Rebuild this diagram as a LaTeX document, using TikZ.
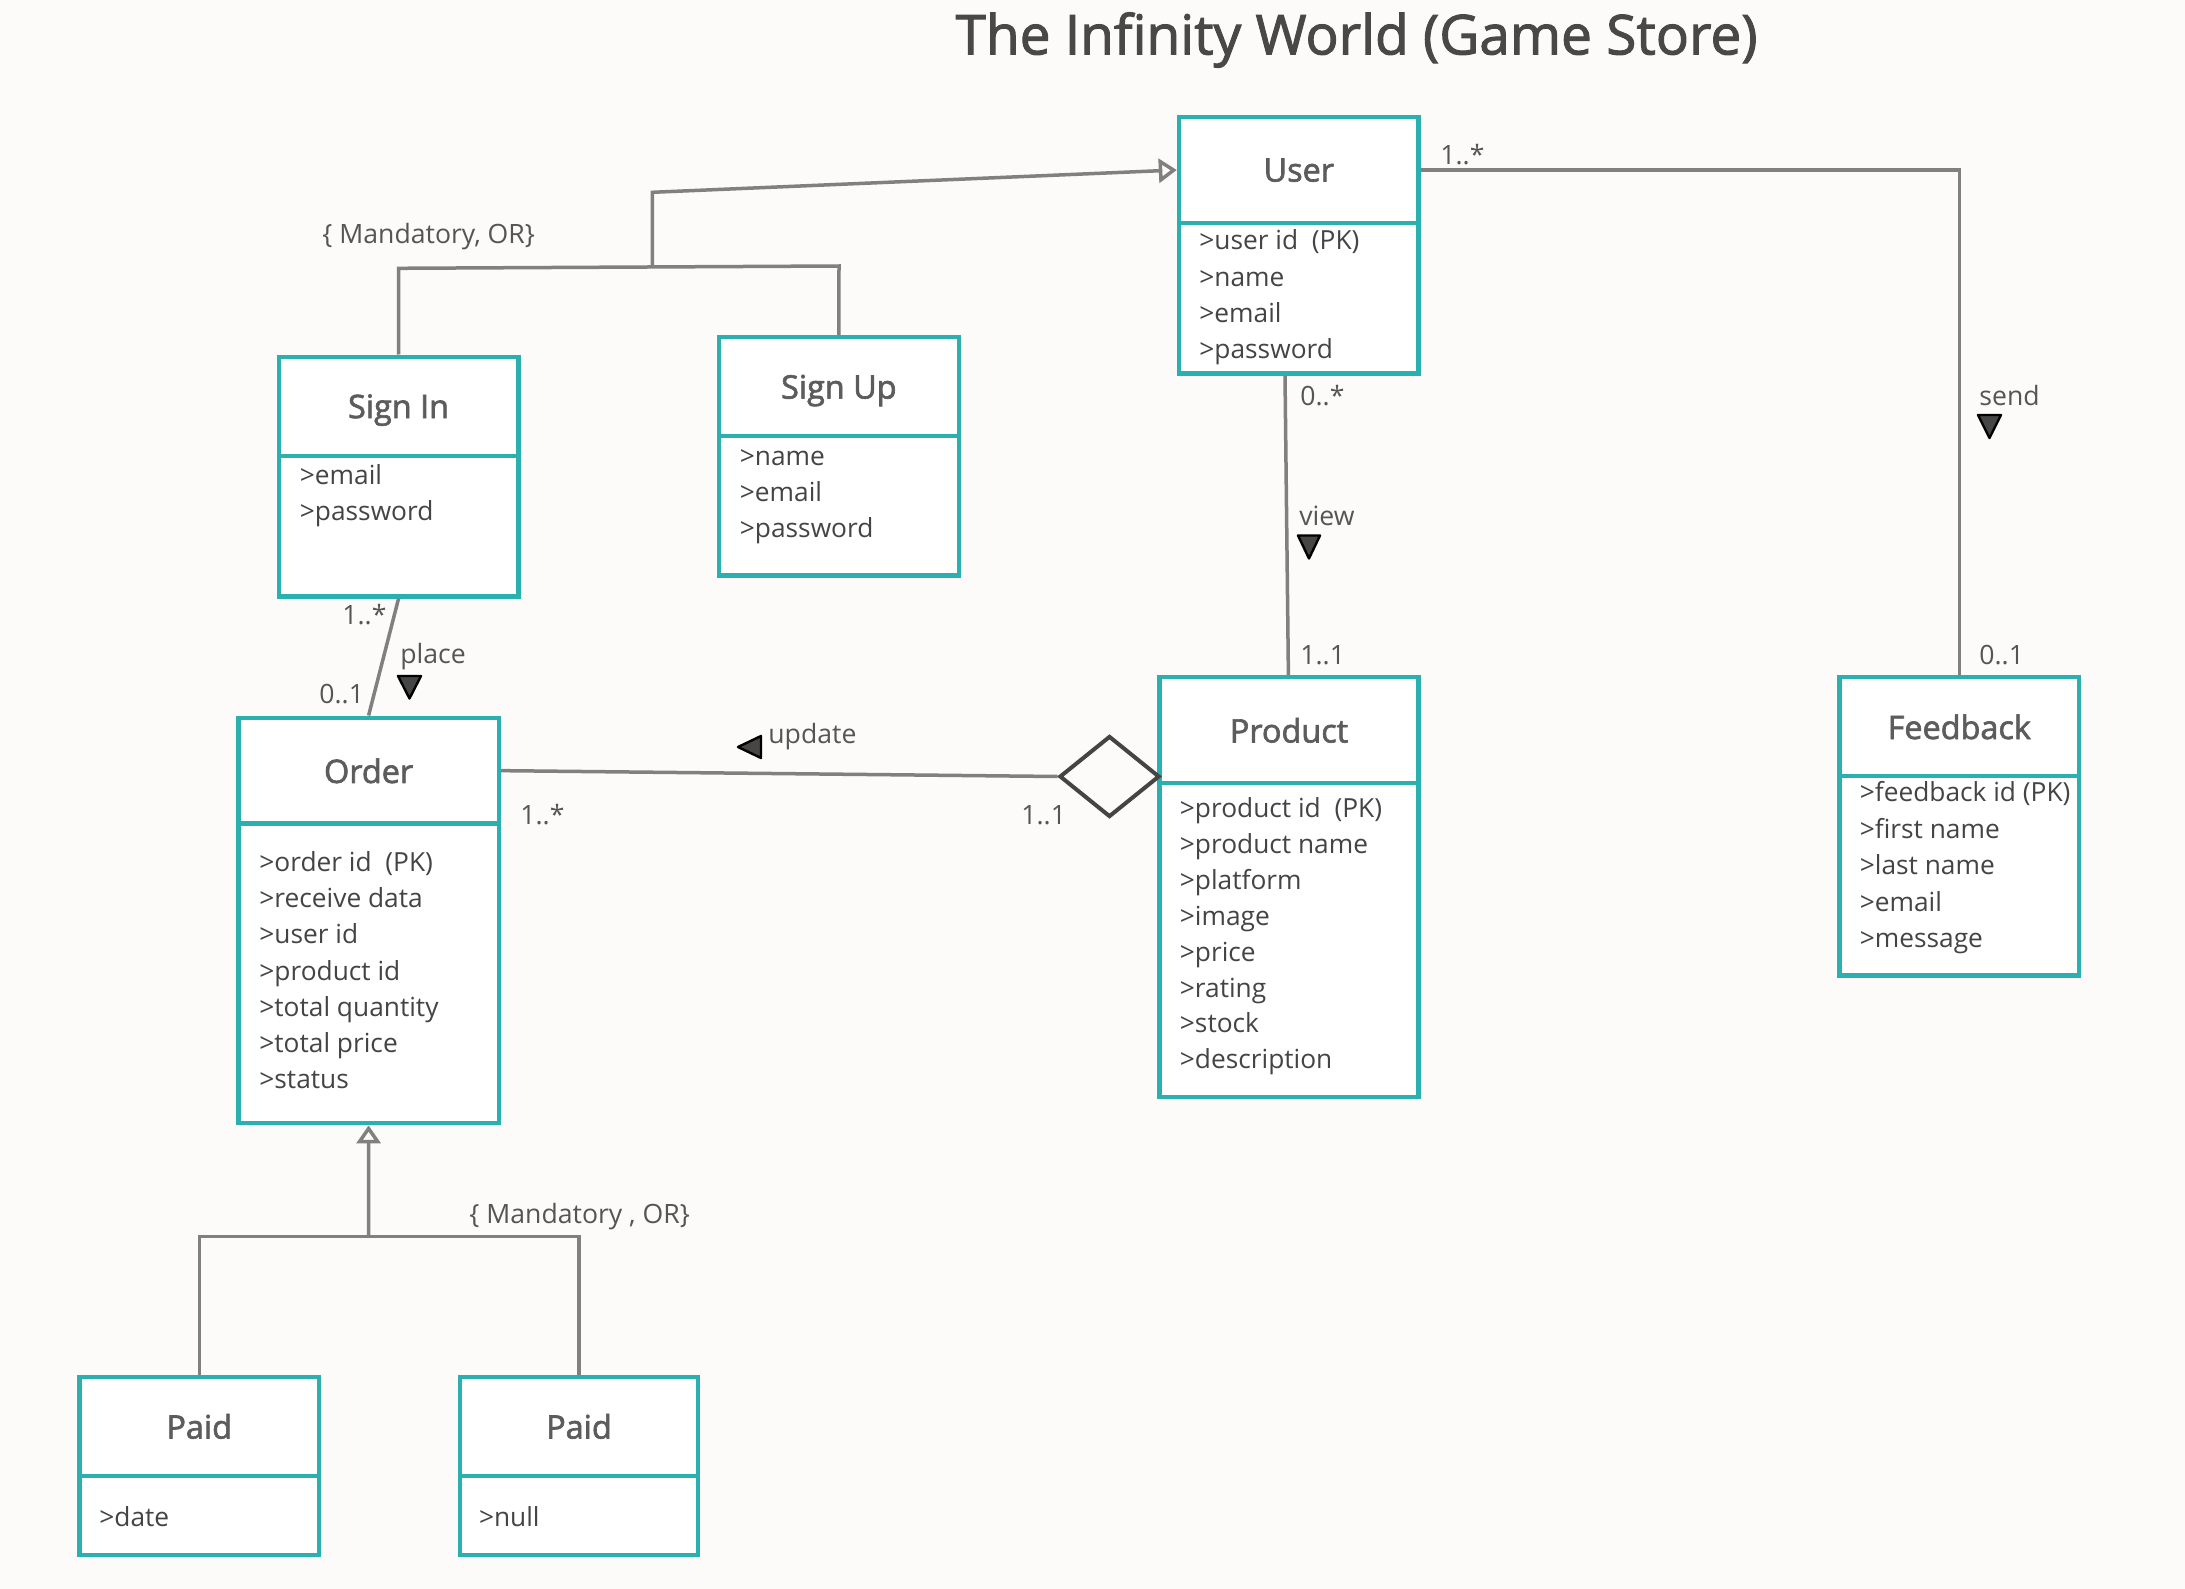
\documentclass[tikz,border=0pt]{standalone}
\usepackage{fontspec}
\setmainfont{Open Sans}
\newfontfamily\semibf{Open Sans}[FakeBold=2]
\newfontfamily\titlef{Open Sans}[FakeBold=1.8]
\usetikzlibrary{arrows.meta,shapes.geometric,fit,calc}
\definecolor{tealb}{RGB}{42,176,174}
\definecolor{bgc}{RGB}{252,251,249}
\definecolor{linegray}{RGB}{128,128,128}
\definecolor{txtc}{RGB}{68,68,68}
\definecolor{headc}{RGB}{92,92,92}
\definecolor{ttlc}{RGB}{72,72,72}
\definecolor{lblc}{RGB}{85,85,85}
\definecolor{markc}{RGB}{70,70,70}
\definecolor{diamc}{RGB}{68,68,68}
\tikzset{
  classpart/.style={draw=tealb, line width=2.2pt, fill=white, inner sep=0pt},
  headtext/.style={font=\semibf\fontsize{16.2pt}{19pt}\selectfont, text=headc, inner sep=0pt, text depth=0pt},
  attr/.style={font=\fontsize{13.15pt}{16pt}\selectfont, text=txtc, inner sep=0pt, anchor=base west},
  lab/.style={font=\fontsize{13.3pt}{15pt}\selectfont, text=lblc, inner sep=0pt, anchor=west},
  connector/.style={draw=linegray, line width=1.75pt},
  genarrow/.style={-{Triangle[open, length=9pt, width=12pt, line width=1.75pt]}},
  dirmark/.style={fill=markc, draw=black, line width=1.2pt, line join=round},
}
\newcommand{\umlclass}[7]{%
  \node[classpart, fit={(#2,#3) (#6,#4)}] (#1) {};
  \node[classpart, fit={(#2,#4) (#6,#5)}] (#1B) {};
  \node[headtext] (#1T) at (#1.center) {#7};
}
\newcommand{\umlattrs}[5]{%
  \foreach \a [count=\i] in {#5} {\node[attr] (#1\i) at (#2, {#3+(\i-1)*#4}) {\a};}
}
\begin{document}
\begin{tikzpicture}[x=0.5pt, y=-0.5pt]
\fill[bgc] (0,0) rectangle (2185,1589);
\useasboundingbox (0,0) rectangle (2185,1589);

\node[font=\titlef\fontsize{27.5pt}{32pt}\selectfont, text=ttlc, inner sep=0pt] (title) at (1356.5,40) {The Infinity World (Game Store)};

% classes
\umlclass{user}{1179}{117}{223}{373.5}{1418.6}{User}
\umlattrs{userA}{1199}{250}{36.2}{>user id\ \ (PK), >name, >email, >password}

\umlclass{signin}{278.7}{356.7}{455.7}{596.4}{518.4}{Sign In}
\umlattrs{signinA}{299.5}{484}{36.2}{>email, >password}

\umlclass{signup}{719}{337.2}{436.2}{575.5}{958.7}{Sign Up}
\umlattrs{signupA}{739.5}{465}{36.2}{>name, >email, >password}

\umlclass{order}{238.3}{717.7}{823.6}{1123.2}{498.9}{Order}
\umlattrs{orderA}{259}{871.5}{36.2}{>order id\ \ (PK), >receive data, >user id, >product id, >total quantity, >total price, >status}

\umlclass{product}{1159.4}{677.2}{783.1}{1096.7}{1418.6}{Product}
\umlattrs{productA}{1179.5}{817.5}{35.9}{>product id\ \ (PK), >product name, >platform, >image, >price, >rating, >stock, >description}

\umlclass{feedback}{1839.4}{677.2}{776.2}{975.5}{2079.1}{Feedback}
\umlattrs{feedbackA}{1859.4}{801.6}{36.5}{>feedback id (PK), >first name, >last name, >email, >message}

\umlclass{paidA}{79.4}{1376.8}{1475.7}{1555.1}{319.1}{Paid}
\umlattrs{paidAattr}{99}{1526}{36.2}{>date}

\umlclass{paidB}{459.9}{1376.8}{1475.7}{1555.1}{698.1}{Paid}
\umlattrs{paidBattr}{478.6}{1526}{36.2}{>null}

% generalization: Sign In / Sign Up -> User
\coordinate (g1L) at (398.5,268.3);
\coordinate (g1R) at (839,266);
\coordinate (g1M) at (652.4,267.2);
\coordinate (g1T) at (652.4,192.3);
\draw[connector] (signin.north) -- (g1L) -- (g1R) -- (signup.north);
\draw[connector, genarrow] (g1M) -- (g1T) -- (user.west);
\node[lab] (mand1) at (322,236.5) {\{ Mandatory, OR\}};

% place
\draw[connector] (signinB.south) -- (order.north);
\node[lab] (placeM1) at (342,615) {1..*};
\node[lab] (placeL) at (400,657) {place};
\node[lab] (placeM2) at (319,694) {0..1};
\filldraw[dirmark] (398,676) -- (421,676) -- (409.5,698.5) -- cycle;

% update (aggregation)
\node[diamond, draw=diamc, line width=2pt, fill=bgc, minimum width=50pt, minimum height=40.5pt, inner sep=0pt] (agg) at (1109.5,776.5) {};
\draw[connector] (order.east) -- (agg.west);
\node[lab] (updM1) at (520,815) {1..*};
\node[lab] (updM2) at (1021,815) {1..1};
\node[lab] (updL) at (768,737) {update};
\filldraw[dirmark] (738,747) -- (761,736) -- (761,758) -- cycle;

% view
\draw[connector] (1285,0 |- userB.south) -- (1288.4,0 |- product.north);
\node[lab] (viewM1) at (1300,396) {0..*};
\node[lab] (viewL) at (1299,516) {view};
\filldraw[dirmark] (1298,535.5) -- (1320,535.5) -- (1309,558.5) -- cycle;
\node[lab] (viewM2) at (1300,655) {1..1};

% send
\draw[connector] (user.east) -| (feedback.north);
\node[lab] (sendM1) at (1440,155) {1..*};
\node[lab] (sendL) at (1979,396) {send};
\filldraw[dirmark] (1978,415) -- (2001,415) -- (1989.5,438) -- cycle;
\node[lab] (sendM2) at (1979,655) {0..1};

% generalization: Paid / Paid -> Order
\coordinate (g2M) at (368.6,1236.7);
\draw[connector, genarrow] (g2M) -- (orderB.south);
\draw[connector] (paidA.north) -- (paidA.north |- g2M) -- (paidB.north |- g2M) -- (paidB.north);
\node[lab] (mand2) at (469,1216.5) {\{ Mandatory , OR\}};
\end{tikzpicture}
\end{document}
